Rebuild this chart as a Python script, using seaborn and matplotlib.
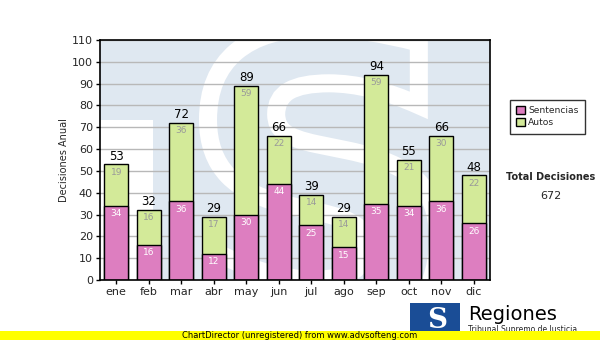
import matplotlib
matplotlib.use("Agg")
import matplotlib.pyplot as plt
import seaborn as sns
import pandas as pd
from matplotlib.patches import Rectangle, Patch, PathPatch
from matplotlib.textpath import TextPath
from matplotlib.font_manager import FontProperties
from matplotlib.transforms import Affine2D

meses = ["ene", "feb", "mar", "abr", "may", "jun", "jul", "ago", "sep", "oct", "nov", "dic"]
sentencias = [34, 16, 36, 12, 30, 44, 25, 15, 35, 34, 36, 26]
autos = [19, 16, 36, 17, 59, 22, 14, 14, 59, 21, 30, 22]
totales = [s + a for s, a in zip(sentencias, autos)]
yticks = list(range(0, 111, 10))

sns.set_theme(style="white")
plt.rcParams['font.family'] = ['DejaVu Sans']

df = pd.DataFrame({"mes": meses, "Sentencias": sentencias, "Autos": autos, "Total": totales})

fig = plt.figure(figsize=(6, 3.4), dpi=100)
ax = fig.add_axes([100/600, 60/340, 390/600, 240/340])
bg = "#dfe8f1"
ax.set_facecolor(bg)

# faint watermark (T + S logo) drawn as background patches
wm_left = Rectangle((0.0, 0.0), 0.136, 0.667, transform=ax.transAxes, facecolor="#ffffff",
                    edgecolor="none", zorder=0.7)
ax.add_artist(wm_left)
tp = TextPath((0, 0), "S", size=1, prop=FontProperties(family="DejaVu Sans", weight="bold"))
ext = tp.get_extents()
x0, x1 = (208 - 100) / 390, (438 - 100) / 390
y0, y1 = 1 - (335 - 40) / 240, 1 - (28 - 40) / 240
tr = Affine2D().translate(-ext.x0, -ext.y0).scale((x1 - x0) / ext.width, (y1 - y0) / ext.height) \
    .translate(x0, y0)
sp_patch = PathPatch(tr.transform_path(tp), transform=ax.transAxes, facecolor=bg,
                     edgecolor="white", linewidth=13, zorder=0.6)
ax.add_artist(sp_patch)
sp_patch.set_clip_path(ax.patch)

pink = "#dd7ec0"
green = "#d3ea99"

sns.barplot(data=df, x="mes", y="Total", color=green, saturation=1, width=0.74,
            edgecolor="black", linewidth=1, ax=ax, zorder=3)
sns.barplot(data=df, x="mes", y="Sentencias", color=pink, saturation=1, width=0.74,
            edgecolor="black", linewidth=1, ax=ax, zorder=4)

for i, (s, a, t) in enumerate(zip(sentencias, autos, totales)):
    ax.text(i, t + 0.8, str(t), ha="center", va="bottom", fontsize=8.5, color="black", zorder=5)
    ax.text(i, t - 1.5, str(a), ha="center", va="top", fontsize=6.5, color="#999999", zorder=5)
    ax.text(i, s - 1.5, str(s), ha="center", va="top", fontsize=6.5, color="white", zorder=5)

ax.set_ylim(0, 110)
ax.set_xlim(-0.5, 11.5)
ax.set_yticks(yticks)
ax.yaxis.grid(True, color="#b8b8b8", linewidth=1)
ax.set_axisbelow(False)
for gl in ax.get_ygridlines():
    gl.set_zorder(1)
ax.tick_params(axis="both", labelsize=8, length=3, width=1, color="black", pad=2, direction="out",
               bottom=True, left=True)
ax.set_xlabel("")
ax.set_ylabel("Decisiones Anual", fontsize=7, labelpad=2)
for sp in ax.spines.values():
    sp.set_color("black")
    sp.set_linewidth(1.2)
    sp.set_zorder(6)

handles = [Patch(facecolor=pink, edgecolor="black", label="Sentencias"),
           Patch(facecolor=green, edgecolor="black", label="Autos")]
leg = fig.legend(handles=handles, loc="upper left", bbox_to_anchor=(510/600, 1 - 100/340),
                 borderaxespad=0, fontsize=6.6, frameon=True, fancybox=False, edgecolor="black",
                 handlelength=0.9, handleheight=0.9, handletextpad=0.4, borderpad=0.7,
                 labelspacing=0.3)
leg.get_frame().set_linewidth(1)

fig.text(551/600, 1 - 177/340, "Total Decisiones", ha="center", va="center", fontsize=7, fontweight="bold")
fig.text(551/600, 1 - 196/340, "672", ha="center", va="center", fontsize=8)

# footer
fig.patches.append(Rectangle((0, 0), 1, 9/340, transform=fig.transFigure, facecolor="#ffff00",
                             edgecolor="none", zorder=4))
fig.text(300/600, 4.5/340, "ChartDirector (unregistered) from www.advsofteng.com", ha="center",
         va="center", fontsize=6, color="black", zorder=5)
fig.patches.append(Rectangle((410/600, 9/340), 50/600, 28/340, transform=fig.transFigure,
                             facecolor="#1a4d96", edgecolor="none", zorder=2))
fig.text(437/600, 20/340, "S", ha="center", va="center", fontsize=20, fontweight="bold",
         family="DejaVu Serif", color="white", zorder=3)
fig.text(468/600, 26/340, "Regiones", ha="left", va="center", fontsize=14, color="black", zorder=3)
fig.text(468/600, 11/340, "Tribunal Supremo de Justicia", ha="left", va="center", fontsize=5.5,
         color="#222222", zorder=3)

fig.savefig("out.png", dpi=100)
